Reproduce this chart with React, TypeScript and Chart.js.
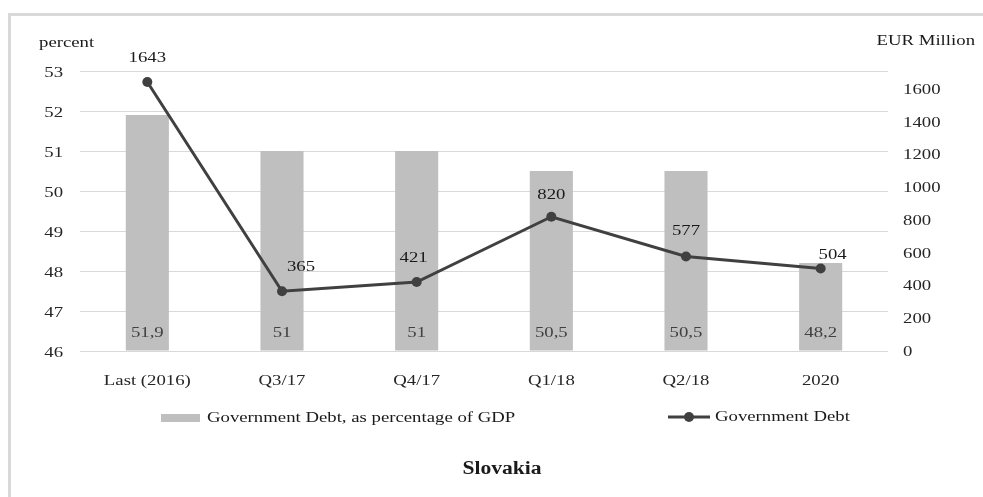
import React, { useEffect, useRef } from "react";
import { Chart, registerables } from "chart.js";

Chart.register(...registerables);

const categories = ["Last (2016)", "Q3/17", "Q4/17", "Q1/18", "Q2/18", "2020"];
const debtPctGdp = [51.9, 51, 51, 50.5, 50.5, 48.2];
const debtEurMillion = [1643, 365, 421, 820, 577, 504];
const leftTicks = [46, 47, 48, 49, 50, 51, 52, 53];
const rightTicks = [0, 200, 400, 600, 800, 1000, 1200, 1400, 1600];
const barLegend = "Government Debt, as percentage of GDP";
const lineLegend = "Government Debt";
const chartTitle = "Slovakia";
const leftAxisTitle = "percent";
const rightAxisTitle = "EUR Million";

const FONT = "'Liberation Serif', 'Times New Roman', serif";
const SX = 1.25;

function txt(
  ctx: CanvasRenderingContext2D,
  s: string,
  x: number,
  y: number,
  font: string,
  color: string,
  align: "left" | "center" | "right",
  sx = SX
) {
  ctx.save();
  ctx.font = font;
  ctx.fillStyle = color;
  ctx.textBaseline = "middle";
  ctx.textAlign = "left";
  const w = ctx.measureText(s).width * sx;
  const left = align === "left" ? x : align === "center" ? x - w / 2 : x - w;
  ctx.translate(left, y);
  ctx.scale(sx, 1);
  ctx.fillText(s, 0, 0);
  ctx.restore();
}

const decorations = {
  id: "decorations",
  beforeDraw(chart: any) {
    const ctx = chart.ctx as CanvasRenderingContext2D;
    ctx.save();
    ctx.fillStyle = "#ffffff";
    ctx.fillRect(0, 0, chart.width, chart.height);
    ctx.strokeStyle = "#d9d9d9";
    ctx.lineWidth = 3;
    ctx.beginPath();
    ctx.moveTo(8, 14.5);
    ctx.lineTo(chart.width + 5, 14.5);
    ctx.moveTo(9.5, 13);
    ctx.lineTo(9.5, chart.height + 5);
    ctx.stroke();
    ctx.restore();
  },
  afterDraw(chart: any) {
    const ctx = chart.ctx as CanvasRenderingContext2D;
    const xs = chart.scales.x;
    const ys = chart.scales.y;
    const y1 = chart.scales.y1;
    const tickFont = `15px ${FONT}`;
    const tickColor = "#262626";

    // category labels
    categories.forEach((c, i) => {
      txt(ctx, c, xs.getPixelForValue(i), 381, tickFont, tickColor, "center");
    });
    // left axis labels
    leftTicks.forEach((v) => {
      txt(ctx, String(v), 63, ys.getPixelForValue(v) + 2, tickFont, tickColor, "right");
    });
    // right axis labels
    rightTicks.forEach((v) => {
      txt(ctx, String(v), 903, y1.getPixelForValue(v) + 1, tickFont, tickColor, "left");
    });
    // axis titles
    txt(ctx, leftAxisTitle, 39, 43, tickFont, "#1a1a1a", "left");
    txt(ctx, rightAxisTitle, 975, 41, tickFont, "#1a1a1a", "right");

    // bar value labels (inside base)
    const barMeta = chart.getDatasetMeta(1);
    barMeta.data.forEach((el: any, i: number) => {
      const label = String(debtPctGdp[i]).replace(".", ",");
      txt(ctx, label, el.x, 333, tickFont, "#404040", "center");
    });

    // line value labels
    const nudge = [
      [0, -24],
      [19, -24],
      [-3, -24],
      [0, -22],
      [0, -25],
      [12, -13],
    ];
    const lineMeta = chart.getDatasetMeta(0);
    lineMeta.data.forEach((el: any, i: number) => {
      txt(
        ctx,
        String(debtEurMillion[i]),
        el.x + nudge[i][0],
        el.y + nudge[i][1],
        tickFont,
        "#1a1a1a",
        "center"
      );
    });

    // legend
    ctx.save();
    ctx.fillStyle = "#bfbfbf";
    ctx.fillRect(161, 414, 39, 8);
    ctx.restore();
    txt(ctx, barLegend, 207, 418, tickFont, "#1a1a1a", "left");
    ctx.save();
    ctx.strokeStyle = "#404040";
    ctx.lineWidth = 3;
    ctx.beginPath();
    ctx.moveTo(668, 417);
    ctx.lineTo(710, 417);
    ctx.stroke();
    ctx.fillStyle = "#404040";
    ctx.beginPath();
    ctx.arc(689, 417, 5, 0, Math.PI * 2);
    ctx.fill();
    ctx.restore();
    txt(ctx, lineLegend, 715, 417, tickFont, "#1a1a1a", "left");

    // title
    txt(ctx, chartTitle, 502, 469, `bold 18px ${FONT}`, "#1a1a1a", "center", 1.2);
  },
};

export default function App() {
  const ref = useRef<HTMLCanvasElement | null>(null);
  useEffect(() => {
    if (!ref.current) return;
    const chart = new Chart(ref.current, {
      type: "bar",
      data: {
        labels: categories,
        datasets: [
          {
            type: "line",
            label: lineLegend,
            data: debtEurMillion,
            yAxisID: "y1",
            borderColor: "#404040",
            backgroundColor: "#404040",
            borderWidth: 3,
            pointRadius: 5,
            pointBackgroundColor: "#404040",
            pointBorderColor: "#404040",
            pointBorderWidth: 0,
            tension: 0,
            order: 0,
          } as any,
          {
            type: "bar",
            label: barLegend,
            data: debtPctGdp,
            yAxisID: "y",
            backgroundColor: "#bfbfbf",
            borderWidth: 0,
            categoryPercentage: 1,
            barPercentage: 0.32,
            base: 46,
            order: 1,
          } as any,
        ],
      },
      options: {
        responsive: false,
        animation: false,
        layout: { padding: { top: 71, bottom: 106, left: 10, right: 10 } },
        plugins: {
          legend: { display: false },
          tooltip: { enabled: false },
          title: { display: false },
        },
        scales: {
          x: {
            type: "category",
            grid: { display: false },
            border: { display: false },
            ticks: { display: false },
            afterFit: (s: any) => {
              s.height = 40;
            },
          },
          y: {
            position: "left",
            min: 46,
            max: 53,
            ticks: { display: false, stepSize: 1 },
            grid: { color: "#d9d9d9", lineWidth: 1, drawTicks: false },
            border: { display: false },
            afterFit: (s: any) => {
              s.width = 70;
            },
          },
          y1: {
            position: "right",
            min: 0,
            max: 1710,
            ticks: { display: false, stepSize: 200 },
            grid: { display: false, drawOnChartArea: false },
            border: { display: false },
            afterFit: (s: any) => {
              s.width = 85;
            },
          },
        },
      } as any,
      plugins: [decorations],
    });
    return () => chart.destroy();
  }, []);
  return (
    <div style={{ position: "absolute", left: 0, top: 0, width: 983, height: 497, background: "#fff" }}>
      <canvas ref={ref} width={983} height={497} style={{ display: "block" }} />
    </div>
  );
}
